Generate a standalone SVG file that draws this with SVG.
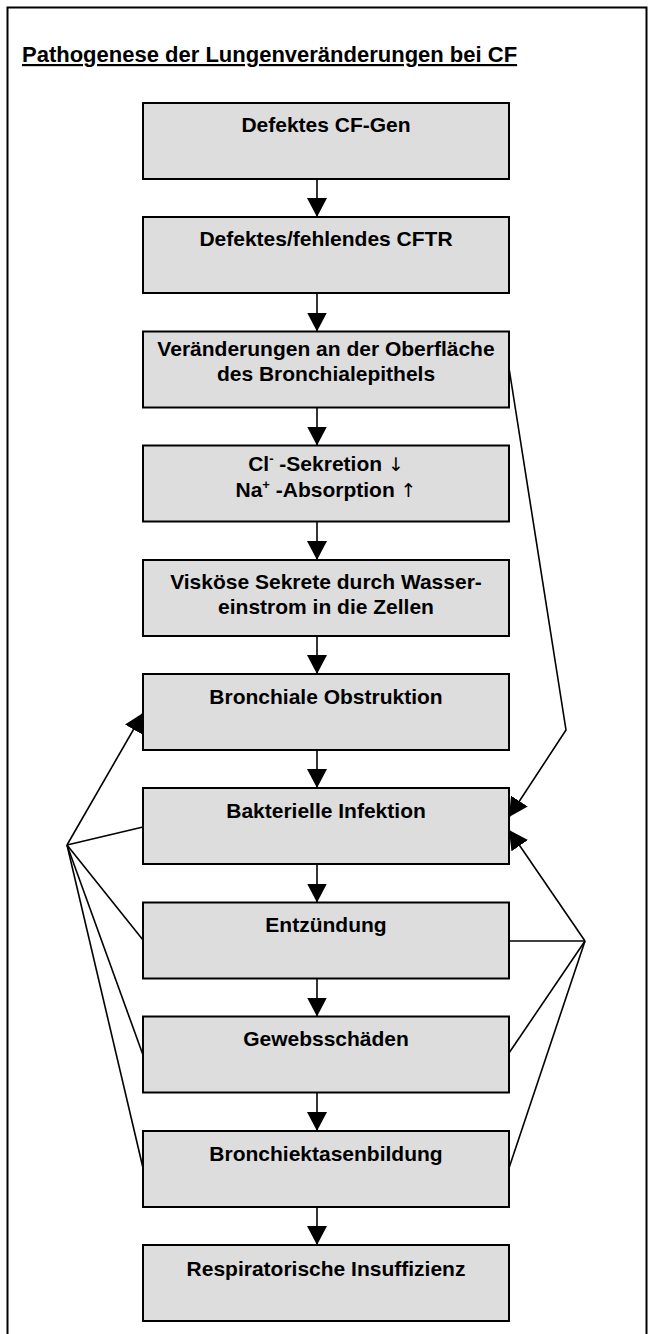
<svg xmlns="http://www.w3.org/2000/svg" width="654" height="1334" viewBox="0 0 654 1334">
<style>
.frame{fill:#fff;stroke:#000;stroke-width:2}
.box{fill:#dddddd;stroke:#000;stroke-width:2}
.t{font-family:"Liberation Sans",Arial,sans-serif;font-weight:bold;font-size:21px;text-anchor:middle;fill:#000}
.title{font-family:"Liberation Sans",Arial,sans-serif;font-weight:bold;font-size:22px;fill:#000;text-decoration:underline}
.c{fill:none;stroke:#000;stroke-width:1.6}
.sym{font-family:"DejaVu Sans",sans-serif;font-weight:normal;font-size:19px;fill:#000}
</style>
<defs>
<marker id="ah" markerUnits="userSpaceOnUse" markerWidth="20" markerHeight="20" viewBox="0 0 20 20" refX="19" refY="10" orient="auto">
<path d="M0,0 L19,10 L0,20 Z" fill="#000"/>
</marker>
</defs>
<rect class="frame" x="7.5" y="7.5" width="639" height="1400"/>
<text class="title" x="22" y="62">Pathogenese der Lungenveränderungen bei CF</text>

<g id="connectors">
<line class="c" x1="317" y1="179" x2="317" y2="217" marker-end="url(#ah)"/>
<line class="c" x1="317" y1="293" x2="317" y2="331.5" marker-end="url(#ah)"/>
<line class="c" x1="317" y1="407.5" x2="317" y2="445.5" marker-end="url(#ah)"/>
<line class="c" x1="317" y1="521.5" x2="317" y2="560" marker-end="url(#ah)"/>
<line class="c" x1="317" y1="636" x2="317" y2="674" marker-end="url(#ah)"/>
<line class="c" x1="317" y1="750" x2="317" y2="788" marker-end="url(#ah)"/>
<line class="c" x1="317" y1="864" x2="317" y2="902.5" marker-end="url(#ah)"/>
<line class="c" x1="317" y1="978.5" x2="317" y2="1016.5" marker-end="url(#ah)"/>
<line class="c" x1="317" y1="1092.5" x2="317" y2="1131" marker-end="url(#ah)"/>
<line class="c" x1="317" y1="1207" x2="317" y2="1245" marker-end="url(#ah)"/>
<line class="c" x1="67" y1="845" x2="143" y2="713" marker-end="url(#ah)"/>
<line class="c" x1="67" y1="845" x2="143" y2="827"/>
<line class="c" x1="67" y1="845" x2="143" y2="940"/>
<line class="c" x1="67" y1="845" x2="143" y2="1055"/>
<line class="c" x1="67" y1="845" x2="143" y2="1168"/>
<polyline class="c" points="509,368 566,730 509,817" marker-end="url(#ah)"/>
<line class="c" x1="585" y1="941" x2="509" y2="830" marker-end="url(#ah)"/>
<line class="c" x1="585" y1="941" x2="509" y2="941"/>
<line class="c" x1="585" y1="941" x2="509" y2="1053"/>
<line class="c" x1="585" y1="941" x2="509" y2="1168"/>
</g>

<g id="n1"><rect class="box" x="143" y="103" width="366" height="76"/><text class="t" x="326" y="132">Defektes CF-Gen</text></g>
<g id="n2"><rect class="box" x="143" y="217" width="366" height="76"/><text class="t" x="326" y="246">Defektes/fehlendes CFTR</text></g>
<g id="n3"><rect class="box" x="143" y="331.5" width="366" height="76"/><text class="t" x="326" y="356">Veränderungen an der Oberfläche</text><text class="t" x="326" y="381">des Bronchialepithels</text></g>
<g id="n4"><rect class="box" x="143" y="445.5" width="366" height="76"/><text class="t" x="326" y="471">Cl<tspan font-size="13" dy="-8">-</tspan><tspan dy="8"> -Sekretion </tspan><tspan class="sym">↓</tspan></text><text class="t" x="326" y="497">Na<tspan font-size="13" dy="-8">+</tspan><tspan dy="8"> -Absorption </tspan><tspan class="sym">↑</tspan></text></g>
<g id="n5"><rect class="box" x="143" y="560" width="366" height="76"/><text class="t" x="326" y="589">Visköse Sekrete durch Wasser-</text><text class="t" x="326" y="614">einstrom in die Zellen</text></g>
<g id="n6"><rect class="box" x="143" y="674" width="366" height="76"/><text class="t" x="326" y="704">Bronchiale Obstruktion</text></g>
<g id="n7"><rect class="box" x="143" y="788" width="366" height="76"/><text class="t" x="326" y="818">Bakterielle Infektion</text></g>
<g id="n8"><rect class="box" x="143" y="902.5" width="366" height="76"/><text class="t" x="326" y="932">Entzündung</text></g>
<g id="n9"><rect class="box" x="143" y="1016.5" width="366" height="76"/><text class="t" x="326" y="1046">Gewebsschäden</text></g>
<g id="n10"><rect class="box" x="143" y="1131" width="366" height="76"/><text class="t" x="326" y="1161">Bronchiektasenbildung</text></g>
<g id="n11"><rect class="box" x="143" y="1245" width="366" height="76"/><text class="t" x="326" y="1276">Respiratorische Insuffizienz</text></g>
</svg>
